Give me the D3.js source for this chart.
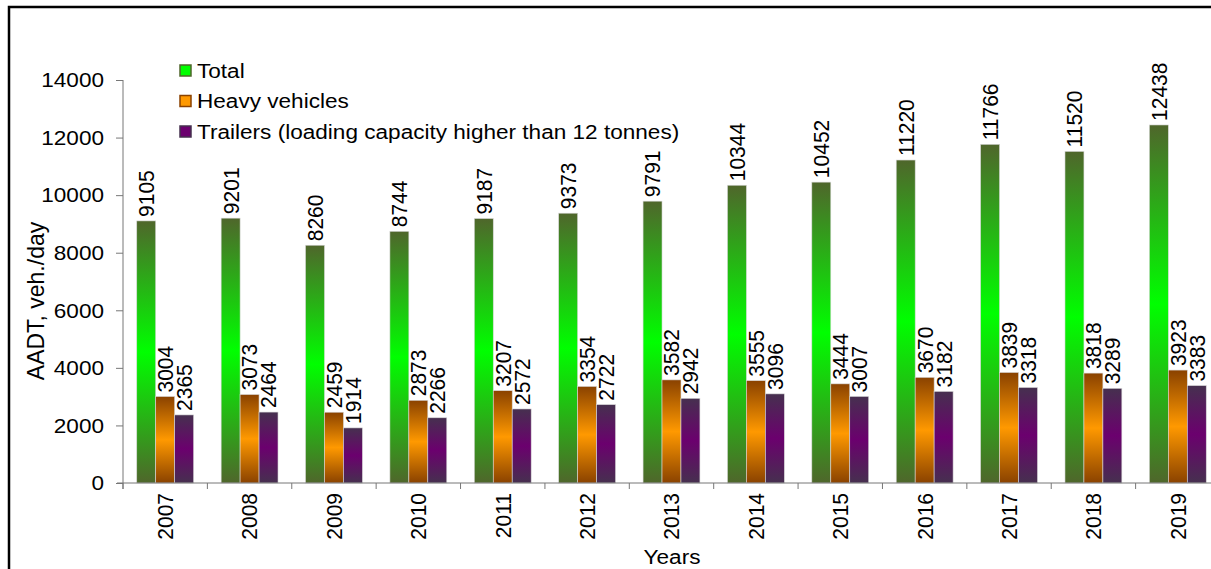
<!DOCTYPE html>
<html>
<head>
<meta charset="utf-8">
<script src="https://cdn.jsdelivr.net/npm/d3@7"></script>
<style>
  body { margin: 0; background: #fff; }
  svg text { font-family: "Liberation Sans", Arial, sans-serif; fill: #000; }
</style>
</head>
<body>
<script>
var years = ['2007', '2008', '2009', '2010', '2011', '2012', '2013', '2014', '2015', '2016', '2017', '2018', '2019'];
var total = [9105, 9201, 8260, 8744, 9187, 9373, 9791, 10344, 10452, 11220, 11766, 11520, 12438];
var heavy = [3004, 3073, 2459, 2873, 3207, 3354, 3582, 3555, 3444, 3670, 3839, 3818, 3923];
var trailers = [2365, 2464, 1914, 2266, 2572, 2722, 2942, 3096, 3007, 3182, 3318, 3289, 3383];
var seriesNames = ['Total', 'Heavy vehicles', 'Trailers (loading capacity higher than 12 tonnes)'];
var yTicks = [0, 2000, 4000, 6000, 8000, 10000, 12000, 14000];

var WIDTH = 1211;
var HEIGHT = 569;
var FONT = 21;
var SX = 1.075; // the source text is a bit wider than it is tall

// edge / middle colours of each bar gradient
var grads = [
  { id: 'g-total', edge: '#4f662b', mid: '#00ff00' },
  { id: 'g-heavy', edge: '#8a4200', mid: '#ff9900' },
  { id: 'g-trail', edge: '#46304f', mid: '#6b006e' }
];

var series = [total, heavy, trailers].map(function (vals, s) {
  return { name: seriesNames[s], grad: grads[s], values: vals };
});

var svg = d3.select('body').append('svg')
  .attr('width', WIDTH)
  .attr('height', HEIGHT);

var defs = svg.append('defs');
grads.forEach(function (g) {
  var lg = defs.append('linearGradient')
    .attr('id', g.id)
    .attr('x1', 0).attr('y1', 0).attr('x2', 0).attr('y2', 1);
  lg.append('stop').attr('offset', '0%').attr('stop-color', g.edge);
  lg.append('stop').attr('offset', '50%').attr('stop-color', g.mid);
  lg.append('stop').attr('offset', '100%').attr('stop-color', g.edge);
});

// frame
svg.append('rect')
  .attr('x', 9).attr('y', 7)
  .attr('width', WIDTH + 20).attr('height', HEIGHT + 20)
  .attr('fill', 'none')
  .attr('stroke', '#000')
  .attr('stroke-width', 2.5);

var y = d3.scaleLinear().domain([0, 14000]).range([483, 80]);
var x0 = d3.scaleBand().domain(years).range([123, 1220]);
var bw = x0.bandwidth();
var x1 = d3.scaleBand().domain([0, 1, 2]).range([bw * 0.163, bw * 0.837]);

// bars
var gSeries = svg.selectAll('g.series')
  .data(series)
  .enter().append('g')
    .attr('class', 'series');

gSeries.selectAll('rect')
  .data(function (d, s) {
    return d.values.map(function (v, i) { return { s: s, v: v, year: years[i], grad: d.grad.id }; });
  })
  .enter().append('rect')
    .attr('x', function (d) { return x0(d.year) + x1(d.s); })
    .attr('width', x1.bandwidth())
    .attr('y', function (d) { return y(d.v); })
    .attr('height', function (d) { return y(0) - y(d.v); })
    .attr('fill', function (d) { return 'url(#' + d.grad + ')'; })
    .attr('stroke', '#d8d8d8')
    .attr('stroke-width', 0.6);

// value labels
gSeries.selectAll('text')
  .data(function (d, s) {
    return d.values.map(function (v, i) { return { s: s, v: v, year: years[i] }; });
  })
  .enter().append('text')
    .attr('transform', function (d) {
      var cx = x0(d.year) + x1(d.s) + x1.bandwidth() / 2;
      return 'translate(' + cx + ',' + (y(d.v) - 4) + ') scale(' + SX + ',1) rotate(-90)';
    })
    .attr('dy', '0.35em')
    .attr('font-size', FONT)
    .text(function (d) { return d.v; });

// y axis
var yAxis = svg.append('g')
  .attr('transform', 'translate(123,0)')
  .call(d3.axisLeft(y).tickValues(yTicks).tickSize(7).tickPadding(12).tickFormat(d3.format('d')));
yAxis.select('.domain').attr('stroke', '#777').attr('d', 'M0,' + 80 + 'V' + 489);
yAxis.selectAll('.tick line').attr('stroke', '#777');
yAxis.selectAll('.tick text')
  .attr('font-size', FONT)
  .attr('font-family', '"Liberation Sans", Arial, sans-serif')
  .attr('fill', '#000')
  .attr('transform', 'translate(-19,0) scale(' + SX + ',1)')
  .attr('x', null)
  .attr('text-anchor', 'end');

// x axis
var xAxisG = svg.append('g').attr('transform', 'translate(0,483)');
xAxisG.append('line')
  .attr('x1', 117).attr('x2', WIDTH)
  .attr('stroke', '#777');
xAxisG.selectAll('line.tick')
  .data(years)
  .enter().append('line')
    .attr('class', 'tick')
    .attr('x1', function (d) { return x0(d); })
    .attr('x2', function (d) { return x0(d); })
    .attr('y1', 0).attr('y2', 6)
    .attr('stroke', '#777');
xAxisG.selectAll('text')
  .data(years)
  .enter().append('text')
    .attr('transform', function (d) {
      return 'translate(' + (x0(d) + bw / 2) + ',10) scale(' + SX + ',1) rotate(-90)';
    })
    .attr('text-anchor', 'end')
    .attr('dy', '0.35em')
    .attr('font-size', FONT)
    .text(function (d) { return d; });

// axis titles
svg.append('text')
  .attr('transform', 'translate(35,301) scale(' + SX + ',1) rotate(-90)')
  .attr('text-anchor', 'middle')
  .attr('dy', '0.35em')
  .attr('font-size', 23)
  .text('AADT, veh./day');

svg.append('text')
  .attr('transform', 'translate(672,564) scale(' + SX + ',1)')
  .attr('text-anchor', 'middle')
  .attr('font-size', FONT)
  .text('Years');

// legend
var legend = svg.selectAll('g.legend')
  .data(series)
  .enter().append('g')
    .attr('class', 'legend')
    .attr('transform', function (d, i) { return 'translate(180,' + (70.5 + i * 30.5) + ')'; });
legend.append('rect')
  .attr('x', 0).attr('y', -5.5)
  .attr('width', 11).attr('height', 11)
  .attr('fill', function (d) { return d.grad.mid; })
  .attr('stroke', function (d) { return d.grad.edge; })
  .attr('stroke-width', 1.5);
legend.append('text')
  .attr('transform', 'translate(17,0) scale(' + SX + ',1)')
  .attr('dy', '0.35em')
  .attr('font-size', FONT)
  .text(function (d) { return d.name; });
</script>
</body>
</html>
